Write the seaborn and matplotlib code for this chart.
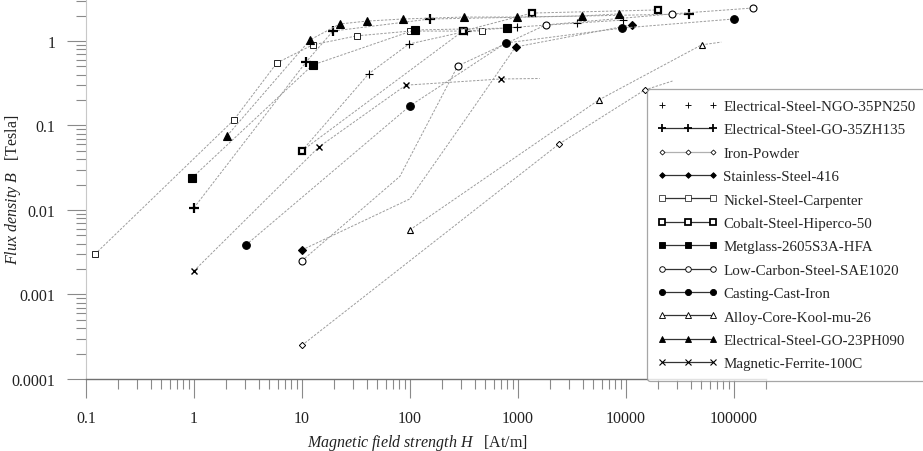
import matplotlib
matplotlib.use("Agg")
import matplotlib.pyplot as plt
import matplotlib.ticker as mticker
from matplotlib.lines import Line2D
import seaborn as sns

# B-H curves (H in At/m, B in Tesla)
# *_marks = indices of the points that carry a marker
ngo_h = [10, 41.7, 98, 340, 980, 3520, 9550]
ngo_b = [0.05, 0.41, 0.92, 1.31, 1.46, 1.63, 1.77]
ngo_marks = [1, 2, 3, 4, 5, 6]

go35_h = [1, 10.9, 19.4, 153, 38300]
go35_b = [0.0106, 0.56, 1.31, 1.82, 2.09]
go35_marks = [0, 1, 2, 3, 4]

iron_h = [10, 2400, 15000, 27200]
iron_b = [0.00025, 0.060, 0.263, 0.336]
iron_marks = [0, 1, 2]

stain_h = [10, 100, 383, 955, 11400]
stain_b = [0.00336, 0.0135, 0.157, 0.85, 1.55]
stain_marks = [0, 3, 4]

nickel_h = [0.121, 2.34, 5.87, 12.6, 32.3, 100, 464]
nickel_b = [0.003, 0.116, 0.55, 0.90, 1.15, 1.31, 1.31]
nickel_marks = [0, 1, 2, 3, 4, 5, 6]

cobalt_h = [10, 310, 1350, 19800]
cobalt_b = [0.05, 1.31, 2.14, 2.33]
cobalt_marks = [0, 1, 2, 3]

metglass_h = [0.96, 12.6, 111, 790]
metglass_b = [0.024, 0.52, 1.35, 1.42]
metglass_marks = [0, 1, 2, 3]

lowc_h = [10, 81, 278, 1820, 26700, 153000]
lowc_b = [0.0025, 0.025, 0.506, 1.55, 2.09, 2.46]
lowc_marks = [0, 2, 3, 4, 5]

cast_h = [3.03, 100, 774, 9180, 100000]
cast_b = [0.00385, 0.17, 0.946, 1.42, 1.82]
cast_marks = [0, 1, 2, 3, 4]

alloy_h = [100, 5620, 50600, 77000]
alloy_b = [0.0058, 0.20, 0.90, 0.97]
alloy_marks = [0, 1, 2]

go23_h = [2.02, 11.9, 22.5, 40, 86, 316, 980, 3980, 8600]
go23_b = [0.075, 1.03, 1.59, 1.72, 1.82, 1.92, 1.92, 1.98, 2.09]
go23_marks = [0, 1, 2, 3, 4, 5, 6, 7, 8]

ferrite_h = [1, 14.4, 92, 697, 1600]
ferrite_b = [0.0019, 0.0557, 0.30, 0.355, 0.36]
ferrite_marks = [0, 1, 2, 3]

names = [
    "Electrical-Steel-NGO-35PN250",
    "Electrical-Steel-GO-35ZH135",
    "Iron-Powder",
    "Stainless-Steel-416",
    "Nickel-Steel-Carpenter",
    "Cobalt-Steel-Hiperco-50",
    "Metglass-2605S3A-HFA",
    "Low-Carbon-Steel-SAE1020",
    "Casting-Cast-Iron",
    "Alloy-Core-Kool-mu-26",
    "Electrical-Steel-GO-23PH090",
    "Magnetic-Ferrite-100C",
]
curves = [
    (ngo_h, ngo_b, ngo_marks),
    (go35_h, go35_b, go35_marks),
    (iron_h, iron_b, iron_marks),
    (stain_h, stain_b, stain_marks),
    (nickel_h, nickel_b, nickel_marks),
    (cobalt_h, cobalt_b, cobalt_marks),
    (metglass_h, metglass_b, metglass_marks),
    (lowc_h, lowc_b, lowc_marks),
    (cast_h, cast_b, cast_marks),
    (alloy_h, alloy_b, alloy_marks),
    (go23_h, go23_b, go23_marks),
    (ferrite_h, ferrite_b, ferrite_marks),
]
x_ticks = [0.1, 1, 10, 100, 1000, 10000, 100000]
y_ticks = [0.0001, 0.001, 0.01, 0.1, 1]

# marker, size, face, edge width ; legend line colour ("none" = no line)
styles = [
    dict(marker="+", ms=6, mfc="k", mew=0.8, leg="none"),
    dict(marker="+", ms=7, mfc="k", mew=1.6, leg="#333333"),
    dict(marker="D", ms=3.2, mfc="white", mew=0.7, leg="#b0b0b0"),
    dict(marker="D", ms=3.6, mfc="k", mew=0.8, leg="#333333"),
    dict(marker="s", ms=5, mfc="white", mew=0.6, leg="#333333"),
    dict(marker="s", ms=4.6, mfc="white", mew=1.6, leg="#333333"),
    dict(marker="s", ms=5.5, mfc="k", mew=0.8, leg="#333333"),
    dict(marker="o", ms=5, mfc="white", mew=0.8, leg="#333333"),
    dict(marker="o", ms=5.5, mfc="k", mew=0.8, leg="#333333"),
    dict(marker="^", ms=5, mfc="white", mew=0.8, leg="#333333"),
    dict(marker="^", ms=5.5, mfc="k", mew=0.8, leg="#333333"),
    dict(marker="x", ms=5, mfc="k", mew=1.0, leg="#333333"),
]

sns.set_style("white")
plt.rcParams["font.family"] = ["Liberation Serif", "DejaVu Serif"]
plt.rcParams["mathtext.fontset"] = "custom"
plt.rcParams["mathtext.rm"] = "Liberation Serif"
plt.rcParams["mathtext.it"] = "Liberation Serif:italic"

fig = plt.figure(figsize=(9.23, 4.52), dpi=100)
ax = fig.add_axes([86 / 923, 72 / 452, 680 / 923, 380 / 452])

for (h, b, marks), st in zip(curves, styles):
    sns.lineplot(x=h, y=b, ax=ax, sort=False, estimator=None, legend=False,
                 color="#9c9c9c", lw=0.7, linestyle=(0, (2.5, 1.5)),
                 marker=st["marker"], markevery=marks, markersize=st["ms"],
                 markerfacecolor=st["mfc"], markeredgecolor="k",
                 markeredgewidth=st["mew"], zorder=3)

ax.set_xscale("log")
ax.set_yscale("log")
ax.set_xlim(0.1, 2e5)
ax.set_ylim(1e-4, 3.14)

fmt = mticker.FuncFormatter(lambda v, _: f"{v:g}")
ax.set_xticks(x_ticks)
ax.set_yticks(y_ticks)
ax.xaxis.set_major_formatter(fmt)
ax.yaxis.set_major_formatter(fmt)
ax.xaxis.set_minor_locator(mticker.LogLocator(base=10, subs=range(2, 10), numticks=20))
ax.yaxis.set_minor_locator(mticker.LogLocator(base=10, subs=range(2, 10), numticks=20))
ax.xaxis.set_minor_formatter(mticker.NullFormatter())
ax.yaxis.set_minor_formatter(mticker.NullFormatter())

ax.tick_params(which="major", direction="out", length=14, width=0.8,
               color="#8a8a8a", labelsize=11.5, pad=8, labelcolor="#222222")
ax.tick_params(which="minor", direction="out", length=7, width=0.8,
               color="#8a8a8a")
ax.tick_params(axis="both", which="both", bottom=True, left=True)

for s in ["top", "right"]:
    ax.spines[s].set_visible(False)
ax.spines["left"].set_color("#c8c8c8")
ax.spines["bottom"].set_color("#707070")
ax.spines["left"].set_linewidth(0.8)
ax.spines["bottom"].set_linewidth(1.0)

ax.set_xlabel(r"$\mathit{Magnetic\ field\ strength\ H}$   [At/m]", fontsize=11.5,
              color="#222222")
ax.set_ylabel(r"$\mathit{Flux\ density\ B}$   [Tesla]", fontsize=11.5,
              color="#222222")
ax.xaxis.set_label_coords(0.488, -0.14)
ax.yaxis.set_label_coords(-0.092, 0.5)

handles = []
for name, st in zip(names, styles):
    ls = "none" if st["leg"] == "none" else "-"
    col = "#333333" if st["leg"] == "none" else st["leg"]
    handles.append(Line2D([], [], color=col, lw=0.9, linestyle=ls,
                          marker=st["marker"], markersize=st["ms"] * 0.8,
                          markerfacecolor=st["mfc"], markeredgecolor="k",
                          markeredgewidth=st["mew"] * 0.8, label=name))

leg = fig.legend(handles=handles, loc="upper left",
                 bbox_to_anchor=(647 / 923, 1 - 90 / 452),
                 bbox_transform=fig.transFigure, numpoints=3,
                 handlelength=4.0, handletextpad=0.4, labelspacing=0.66,
                 borderpad=0.7, borderaxespad=0, fontsize=10.8,
                 frameon=True, fancybox=True)
leg.get_frame().set_edgecolor("#909090")
leg.get_frame().set_linewidth(0.9)

fig.savefig("out.png", dpi=100)
